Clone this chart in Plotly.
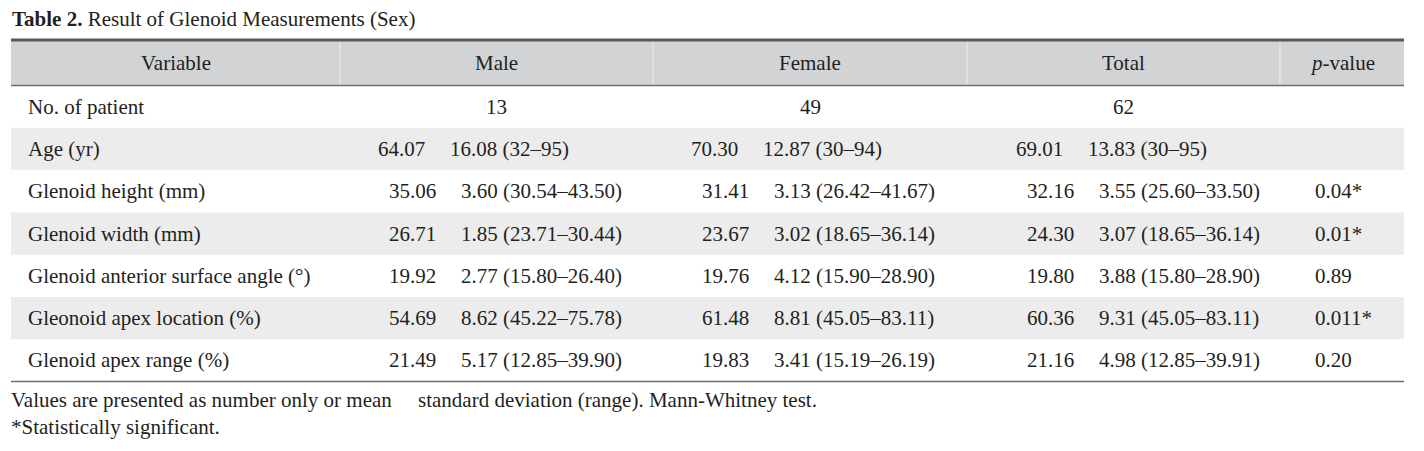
import plotly.graph_objects as go

# ---------------- data ----------------
title_bold = "Table 2."
title_rest = " Result of Glenoid Measurements (Sex)"
headers = ["Variable", "Male", "Female", "Total", "<i>p</i>-value"]
variables = [
    "No. of patient",
    "Age (yr)",
    "Glenoid height (mm)",
    "Glenoid width (mm)",
    "Glenoid anterior surface angle (°)",
    "Gleonoid apex location (%)",
    "Glenoid apex range (%)",
]
patients_n = ["13", "49", "62"]  # Male, Female, Total

male_mean = ["64.07", "35.06", "26.71", "19.92", "54.69", "21.49"]
male_sd = ["16.08 (32–95)", "3.60 (30.54–43.50)", "1.85 (23.71–30.44)",
           "2.77 (15.80–26.40)", "8.62 (45.22–75.78)", "5.17 (12.85–39.90)"]
female_mean = ["70.30", "31.41", "23.67", "19.76", "61.48", "19.83"]
female_sd = ["12.87 (30–94)", "3.13 (26.42–41.67)", "3.02 (18.65–36.14)",
             "4.12 (15.90–28.90)", "8.81 (45.05–83.11)", "3.41 (15.19–26.19)"]
total_mean = ["69.01", "32.16", "24.30", "19.80", "60.36", "21.16"]
total_sd = ["13.83 (30–95)", "3.55 (25.60–33.50)", "3.07 (18.65–36.14)",
            "3.88 (15.80–28.90)", "9.31 (45.05–83.11)", "4.98 (12.85–39.91)"]
p_values = ["", "0.04*", "0.01*", "0.89", "0.011*", "0.20"]

footnotes = [
    "Values are presented as number only or mean     standard deviation (range). Mann-Whitney test.",
    "*Statistically significant.",
]

# ---------------- layout constants ----------------
W, H = 1424, 451
FONT = "Liberation Serif"
TXT = "#231f20"
col_edges = [11, 340, 653, 967, 1280, 1404]
top_y = 40
header_bottom = 85.5
row_h = 42.3
header_bg = "#d1d3d4"
stripe_bg = "#ececed"
body_size = 21

fig = go.Figure()
# invisible trace to establish the pixel-like axes
fig.add_trace(go.Scatter(x=[0, W], y=[0, H], mode="markers",
                         marker=dict(opacity=0), hoverinfo="skip", showlegend=False))

shapes = []
annotations = []

def ann(x, y, text, anchor="center", size=body_size, color=TXT):
    annotations.append(dict(x=x, y=y, xref="x", yref="y", text=text, showarrow=False,
                            xanchor=anchor, yanchor="middle", borderpad=0,
                            font=dict(family=FONT, size=size, color=color)))

# header background
shapes.append(dict(type="rect", xref="x", yref="y", x0=col_edges[0], x1=col_edges[-1],
                   y0=top_y, y1=header_bottom, fillcolor=header_bg, line=dict(width=0), layer="below"))
# striped rows
n_rows = len(variables)
for i in range(n_rows):
    y0 = header_bottom + i * row_h
    if i % 2 == 1:
        shapes.append(dict(type="rect", xref="x", yref="y", x0=col_edges[0], x1=col_edges[-1],
                           y0=y0, y1=y0 + row_h, fillcolor=stripe_bg, line=dict(width=0), layer="below"))
table_bottom = header_bottom + n_rows * row_h

# header column separators (light)
for xe in col_edges[1:-1]:
    shapes.append(dict(type="line", xref="x", yref="y", x0=xe, x1=xe, y0=top_y + 1, y1=header_bottom - 1,
                       line=dict(color="#eeeeee", width=1)))
# rules
shapes.append(dict(type="line", xref="x", yref="y", x0=col_edges[0], x1=col_edges[-1],
                   y0=top_y, y1=top_y, line=dict(color="#58595b", width=3)))
shapes.append(dict(type="line", xref="x", yref="y", x0=col_edges[0], x1=col_edges[-1],
                   y0=header_bottom, y1=header_bottom, line=dict(color="#6d6e71", width=1.5)))
shapes.append(dict(type="line", xref="x", yref="y", x0=col_edges[0], x1=col_edges[-1],
                   y0=table_bottom, y1=table_bottom, line=dict(color="#6d6e71", width=1.5)))

# title
ann(11, 19, f"<b>{title_bold}</b>{title_rest}", anchor="left", size=21)

# headers
header_y = (top_y + header_bottom) / 2
for j, h in enumerate(headers):
    ann((col_edges[j] + col_edges[j + 1]) / 2, header_y, h)

# body
row_centers = [header_bottom + (i + 0.5) * row_h for i in range(n_rows)]
for i, v in enumerate(variables):
    ann(27, row_centers[i], v, anchor="left")

# N row (centered in columns)
for j, n in enumerate(patients_n):
    ann((col_edges[j + 1] + col_edges[j + 2]) / 2, row_centers[0], n)

groups = [(male_mean, male_sd, 97), (female_mean, female_sd, 97), (total_mean, total_sd, 108)]
for j, (means, sds, base) in enumerate(groups):
    left = col_edges[j + 1]
    for k in range(len(means)):
        shift = -11 if k == 0 else 0
        mr = left + base + shift
        ann(mr, row_centers[k + 1], means[k], anchor="right")
        ann(mr + 23, row_centers[k + 1], sds[k], anchor="left")

for k, p in enumerate(p_values):
    if p:
        ann(1314, row_centers[k + 1], p, anchor="left")

# footnotes
ann(10, 400, footnotes[0], anchor="left", size=21)
ann(10, 427, footnotes[1], anchor="left", size=21)

fig.update_layout(
    width=W, height=H, margin=dict(l=0, r=0, t=0, b=0),
    paper_bgcolor="white", plot_bgcolor="white",
    xaxis=dict(range=[0, W], visible=False, fixedrange=True),
    yaxis=dict(range=[H, 0], visible=False, fixedrange=True),
    shapes=shapes, annotations=annotations, showlegend=False,
)
fig.write_html("out.html", config={"displayModeBar": False},
               post_script="document.body.style.margin='0px';document.body.style.overflow='hidden';")
